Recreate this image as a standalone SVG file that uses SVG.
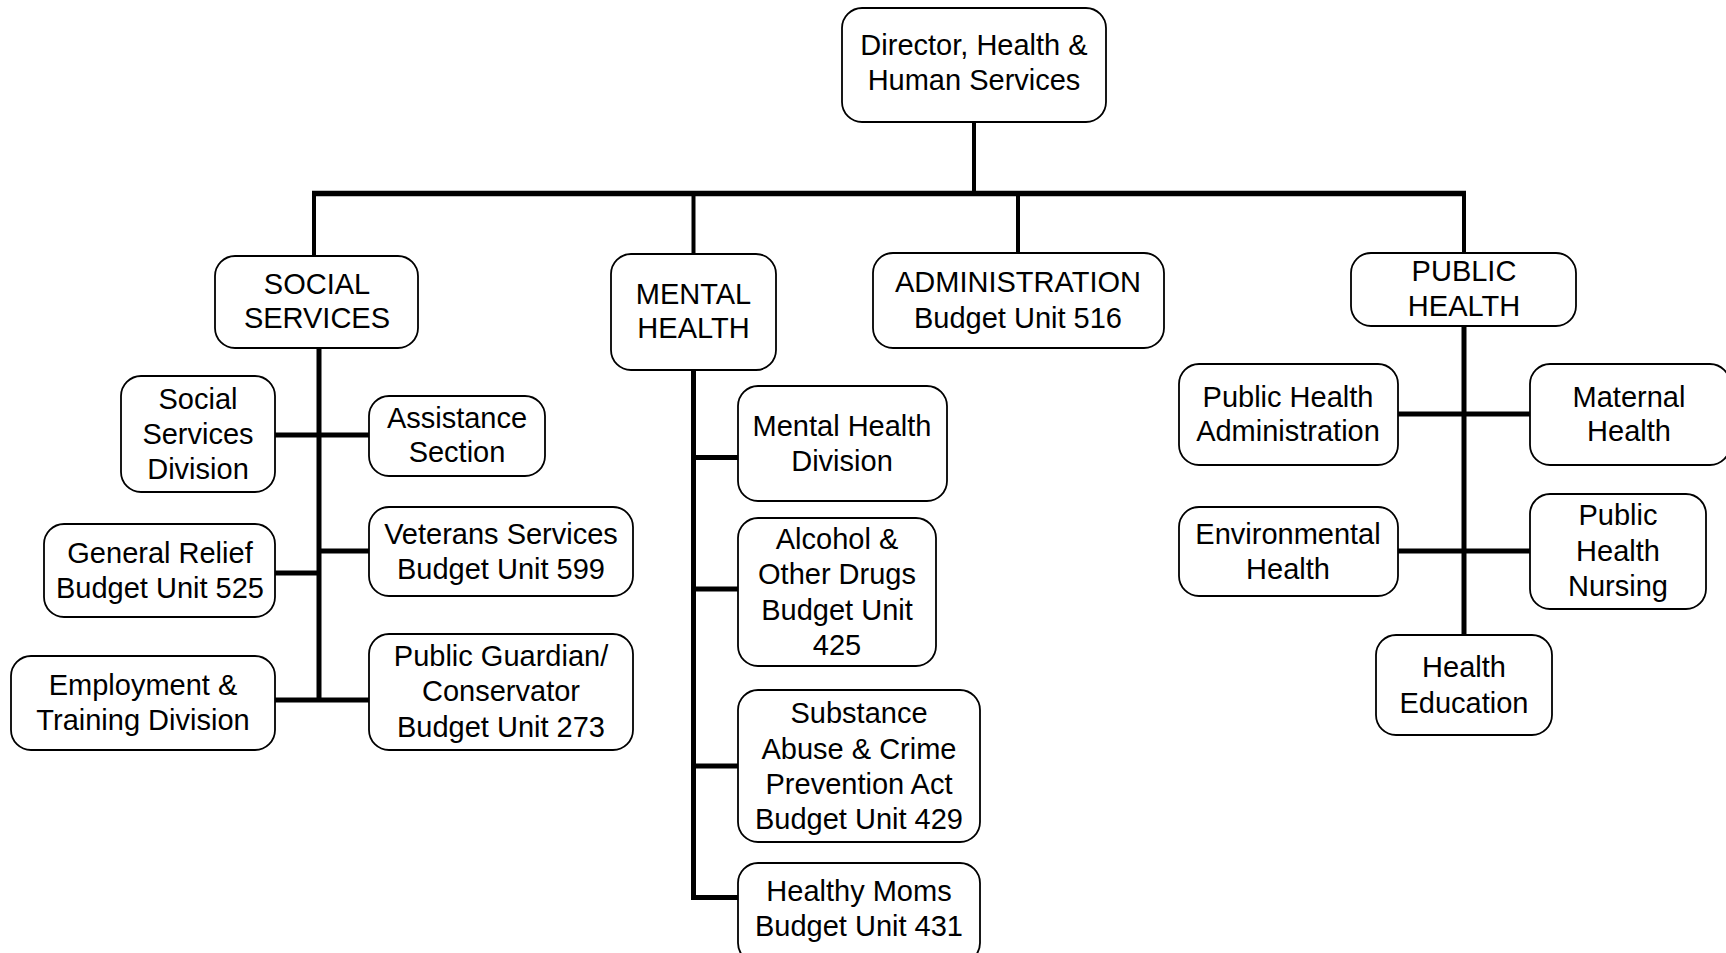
<svg xmlns="http://www.w3.org/2000/svg" width="1726" height="953" viewBox="0 0 1726 953">
<style>
.box{fill:#fff;stroke:#000;stroke-width:1.8}
.t{font-family:"Liberation Sans",Arial,sans-serif;font-size:29px;fill:#000;text-anchor:middle}
.c{fill:none;stroke:#000;stroke-width:5;stroke-linecap:butt}
.d{fill:none;stroke:#000;stroke-width:4}
</style>
<rect width="1726" height="953" fill="#fff"/>
<g id="connectors">
<line class="d" x1="974" y1="122" x2="974" y2="194"/>
<line class="c" x1="312" y1="193.5" x2="1466" y2="193.5" style="stroke-width:5.5"/>
<line class="d" x1="314" y1="193" x2="314" y2="256"/>
<line class="d" x1="693.5" y1="193" x2="693.5" y2="254"/>
<line class="d" x1="1018" y1="193" x2="1018" y2="253"/>
<line class="d" x1="1464" y1="193" x2="1464" y2="253"/>
<line class="c" x1="319" y1="348" x2="319" y2="702"/>
<line class="c" x1="275" y1="435" x2="369" y2="435"/>
<line class="c" x1="275" y1="573" x2="319" y2="573"/>
<line class="c" x1="319" y1="551" x2="369" y2="551"/>
<line class="c" x1="275" y1="700" x2="369" y2="700"/>
<polyline class="c" points="693.5,370 693.5,897.5 738,897.5"/>
<line class="c" x1="693.5" y1="457.5" x2="738" y2="457.5"/>
<line class="c" x1="693.5" y1="589" x2="738" y2="589"/>
<line class="c" x1="693.5" y1="766" x2="738" y2="766"/>
<line class="c" x1="1464" y1="326" x2="1464" y2="635"/>
<line class="c" x1="1398" y1="414" x2="1530" y2="414"/>
<line class="c" x1="1398" y1="551" x2="1530" y2="551"/>
</g>
<g id="director">
<rect class="box" x="842" y="8" width="264" height="114" rx="20"/>
<text class="t" x="974" y="55">Director, Health &amp;</text>
<text class="t" x="974" y="90">Human Services</text>
</g>
<g id="social-services">
<rect class="box" x="215" y="256" width="203" height="92" rx="20"/>
<text class="t" x="317" y="294">SOCIAL</text>
<text class="t" x="317" y="328">SERVICES</text>
</g>
<g id="mental-health">
<rect class="box" x="611" y="254" width="165" height="116" rx="20"/>
<text class="t" x="693.5" y="304">MENTAL</text>
<text class="t" x="693.5" y="338">HEALTH</text>
</g>
<g id="administration">
<rect class="box" x="873" y="253" width="291" height="95" rx="20"/>
<text class="t" x="1018" y="292">ADMINISTRATION</text>
<text class="t" x="1018" y="328">Budget Unit 516</text>
</g>
<g id="public-health">
<rect class="box" x="1351" y="253" width="225" height="73" rx="20"/>
<text class="t" x="1464" y="281">PUBLIC</text>
<text class="t" x="1464" y="316">HEALTH</text>
</g>
<g id="social-services-division">
<rect class="box" x="121" y="376" width="154" height="116" rx="20"/>
<text class="t" x="198" y="409">Social</text>
<text class="t" x="198" y="444">Services</text>
<text class="t" x="198" y="479">Division</text>
</g>
<g id="assistance-section">
<rect class="box" x="369" y="396" width="176" height="80" rx="20"/>
<text class="t" x="457" y="428">Assistance</text>
<text class="t" x="457" y="462">Section</text>
</g>
<g id="general-relief">
<rect class="box" x="44" y="524" width="231" height="93" rx="20"/>
<text class="t" x="160" y="563">General Relief</text>
<text class="t" x="160" y="598">Budget Unit 525</text>
</g>
<g id="veterans-services">
<rect class="box" x="369" y="507" width="264" height="89" rx="20"/>
<text class="t" x="501" y="544">Veterans Services</text>
<text class="t" x="501" y="579">Budget Unit 599</text>
</g>
<g id="employment-training">
<rect class="box" x="11" y="656" width="264" height="94" rx="20"/>
<text class="t" x="143" y="695">Employment &amp;</text>
<text class="t" x="143" y="730">Training Division</text>
</g>
<g id="public-guardian">
<rect class="box" x="369" y="634" width="264" height="116" rx="20"/>
<text class="t" x="501" y="666">Public Guardian/</text>
<text class="t" x="501" y="701">Conservator</text>
<text class="t" x="501" y="737">Budget Unit 273</text>
</g>
<g id="mental-health-division">
<rect class="box" x="738" y="386" width="209" height="115" rx="20"/>
<text class="t" x="842" y="436">Mental Health</text>
<text class="t" x="842" y="471">Division</text>
</g>
<g id="alcohol-drugs">
<rect class="box" x="738" y="518" width="198" height="148" rx="20"/>
<text class="t" x="837" y="549">Alcohol &amp;</text>
<text class="t" x="837" y="584">Other Drugs</text>
<text class="t" x="837" y="620">Budget Unit</text>
<text class="t" x="837" y="655">425</text>
</g>
<g id="substance-abuse">
<rect class="box" x="738" y="690" width="242" height="152" rx="20"/>
<text class="t" x="859" y="723">Substance</text>
<text class="t" x="859" y="759">Abuse &amp; Crime</text>
<text class="t" x="859" y="794">Prevention Act</text>
<text class="t" x="859" y="829">Budget Unit 429</text>
</g>
<g id="healthy-moms">
<rect class="box" x="738" y="863" width="242" height="100" rx="20"/>
<text class="t" x="859" y="901">Healthy Moms</text>
<text class="t" x="859" y="936">Budget Unit 431</text>
</g>
<g id="public-health-administration">
<rect class="box" x="1179" y="364" width="219" height="101" rx="20"/>
<text class="t" x="1288" y="407">Public Health</text>
<text class="t" x="1288" y="441">Administration</text>
</g>
<g id="maternal-health">
<rect class="box" x="1530" y="364" width="200" height="101" rx="20"/>
<text class="t" x="1629" y="407">Maternal</text>
<text class="t" x="1629" y="441">Health</text>
</g>
<g id="environmental-health">
<rect class="box" x="1179" y="507" width="219" height="89" rx="20"/>
<text class="t" x="1288" y="544">Environmental</text>
<text class="t" x="1288" y="579">Health</text>
</g>
<g id="public-health-nursing">
<rect class="box" x="1530" y="494" width="176" height="115" rx="20"/>
<text class="t" x="1618" y="525">Public</text>
<text class="t" x="1618" y="561">Health</text>
<text class="t" x="1618" y="596">Nursing</text>
</g>
<g id="health-education">
<rect class="box" x="1376" y="635" width="176" height="100" rx="20"/>
<text class="t" x="1464" y="677">Health</text>
<text class="t" x="1464" y="713">Education</text>
</g>
</svg>
